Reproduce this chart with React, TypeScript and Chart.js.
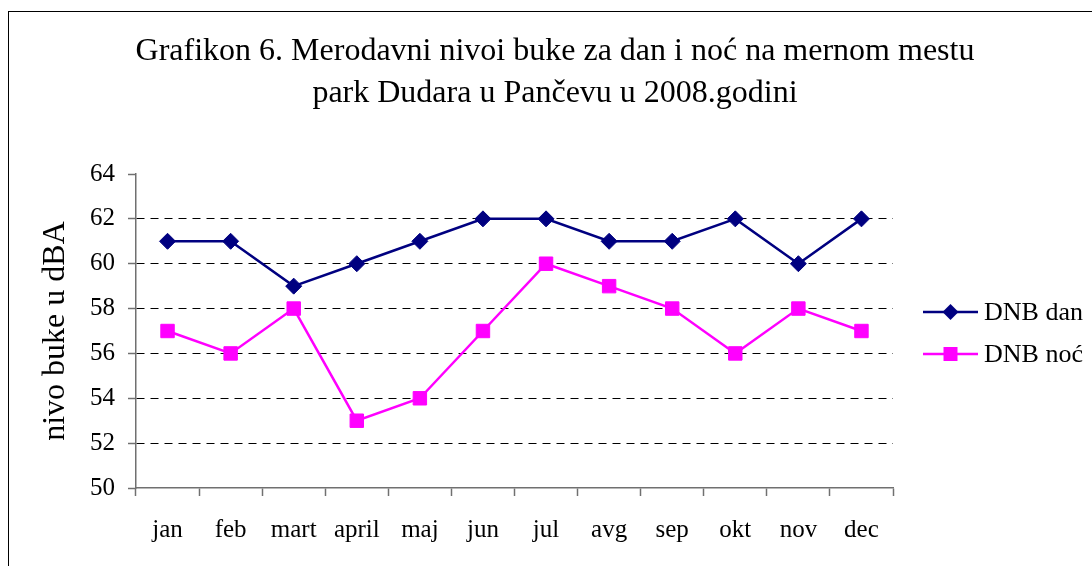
import React, { useEffect, useRef } from "react";
import { Chart, registerables } from "chart.js";

Chart.register(...registerables);

const categories = ["jan", "feb", "mart", "april", "maj", "jun", "jul", "avg", "sep", "okt", "nov", "dec"];
const dnbDan = [61, 61, 59, 60, 61, 62, 62, 61, 61, 62, 60, 62];
const dnbNoc = [57, 56, 58, 53, 54, 57, 60, 59, 58, 56, 58, 57];
const titleLines = ["Grafikon 6. Merodavni nivoi buke za dan i noć na mernom mestu", "park Dudara u Pančevu u 2008.godini"];
const yAxisTitle = "nivo buke u dBA";
const seriesNames = ["DNB dan", "DNB noć"];

const FONT = "'Liberation Serif', 'Times New Roman', serif";

const titlePlugin = {
  id: "customTitle",
  afterDraw(chart: any) {
    const ctx = chart.ctx;
    ctx.save();
    ctx.fillStyle = "#000";
    ctx.font = `32px ${FONT}`;
    ctx.textAlign = "center";
    ctx.textBaseline = "alphabetic";
    const cx = 546;
    ctx.fillText(titleLines[0], cx, 47.5);
    ctx.fillText(titleLines[1], cx, 90);
    ctx.restore();
  },
};

const legendPlugin = {
  id: "customLegend",
  afterDraw(chart: any) {
    const ctx = chart.ctx;
    const ds = chart.data.datasets;
    const x0 = 914;
    const x1 = 969;
    const ys = [300, 342];
    ctx.save();
    ds.forEach((d: any, i: number) => {
      const y = ys[i];
      ctx.strokeStyle = d.borderColor;
      ctx.lineWidth = 2.5;
      ctx.beginPath();
      ctx.moveTo(x0, y);
      ctx.lineTo(x1, y);
      ctx.stroke();
      const mx = (x0 + x1) / 2;
      ctx.fillStyle = d.pointBackgroundColor;
      ctx.beginPath();
      if (d.pointStyle === "rectRot") {
        const r = 8;
        ctx.moveTo(mx, y - r);
        ctx.lineTo(mx + r, y);
        ctx.lineTo(mx, y + r);
        ctx.lineTo(mx - r, y);
        ctx.closePath();
      } else {
        ctx.rect(mx - 7, y - 7, 14, 14);
      }
      ctx.fill();
      ctx.fillStyle = "#000";
      ctx.font = `26px ${FONT}`;
      ctx.textAlign = "left";
      ctx.textBaseline = "middle";
      ctx.fillText(d.label, x1 + 6, y + 1);
    });
    ctx.restore();
  },
};

export default function App() {
  const ref = useRef<HTMLCanvasElement>(null);
  useEffect(() => {
    if (!ref.current) return;
    const chart = new Chart(ref.current, {
      type: "line",
      data: {
        labels: categories,
        datasets: [
          {
            label: seriesNames[0],
            data: dnbDan,
            borderColor: "#000080",
            backgroundColor: "#000080",
            pointBackgroundColor: "#000080",
            pointBorderColor: "#000080",
            pointStyle: "rectRot",
            pointRadius: 8,
            pointBorderWidth: 1,
            borderWidth: 2.5,
            tension: 0,
          },
          {
            label: seriesNames[1],
            data: dnbNoc,
            borderColor: "#FF00FF",
            backgroundColor: "#FF00FF",
            pointBackgroundColor: "#FF00FF",
            pointBorderColor: "#FF00FF",
            pointStyle: "rect",
            pointRadius: 9.5,
            pointBorderWidth: 1,
            borderWidth: 2.5,
            tension: 0,
          },
        ],
      },
      options: {
        responsive: false,
        animation: false,
        devicePixelRatio: 1,
        layout: { padding: { top: 162, right: 216, bottom: 34, left: 27 } },
        plugins: {
          legend: { display: false },
          title: { display: false },
          tooltip: { enabled: false },
        },
        scales: {
          x: {
            type: "category",
            offset: true,
            afterFit: (s: any) => {
              s.height = 60;
            },
            grid: {
              offset: true,
              drawOnChartArea: false,
              drawTicks: true,
              tickLength: 8,
              tickColor: "#707070",
              tickWidth: 1.5,
            },
            border: { display: true, color: "#707070", width: 1.5 },
            ticks: {
              color: "#000",
              font: { family: FONT, size: 25 },
              padding: 19,
              maxRotation: 0,
              autoSkip: false,
            },
          },
          y: {
            min: 50,
            max: 64,
            afterFit: (s: any) => {
              s.width = 100;
            },
            grid: {
              color: (c: any) => (c.tick && (c.tick.value === 50 || c.tick.value === 64) ? "rgba(0,0,0,0)" : "#000"),
              lineWidth: 1,
              drawTicks: true,
              tickLength: 8,
              tickColor: "#707070",
              tickWidth: 1.5,
            },
            border: { display: true, color: "#707070", width: 1.5, dash: [8, 6] },
            ticks: {
              stepSize: 2,
              color: "#000",
              font: { family: FONT, size: 25 },
              padding: 13,
            },
            title: {
              display: true,
              text: yAxisTitle,
              color: "#000",
              font: { family: FONT, size: 32 },
              padding: { top: 0, bottom: 0 },
            },
          },
        },
      },
      plugins: [titlePlugin, legendPlugin],
    });
    return () => chart.destroy();
  }, []);

  return (
    <div
      style={{
        position: "fixed",
        left: 8,
        top: 11,
        width: 1100,
        height: 570,
        border: "1.5px solid #000",
        background: "#fff",
      }}
    >
      <canvas ref={ref} width={1100} height={570} style={{ display: "block" }} />
    </div>
  );
}
